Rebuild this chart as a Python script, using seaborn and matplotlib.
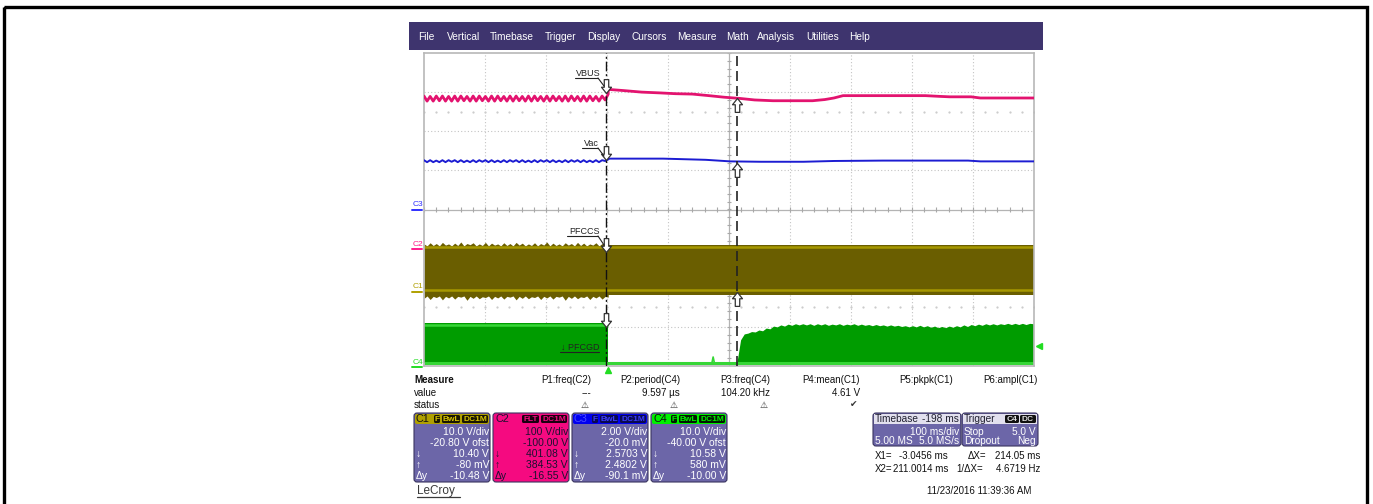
"""
Captura de osciloscópio LeCroy (VBUS, Vac, PFCCS, PFCGD) refeita com seaborn.
"""
import numpy as np
import matplotlib
matplotlib.use("Agg")
import matplotlib.pyplot as plt
import seaborn as sns
from matplotlib.patches import Rectangle, FancyBboxPatch
from matplotlib.path import Path

W, H = 1373, 504

# ---- dados das formas de onda (tempo em ms, amplitude em divisões de tela) ----
vbus_pre = [2.90, 2.77, 2.89, 2.77, 2.90, 2.78, 2.90, 2.77, 2.89, 2.77, 2.90, 2.77,
            2.90, 2.78, 2.89, 2.77, 2.90, 2.77, 2.90, 2.78, 2.89, 2.77, 2.90, 2.77,
            2.90, 2.78, 2.89, 2.77, 2.90, 2.77, 2.90, 2.78, 2.89, 2.77, 2.90, 2.77,
            2.90, 2.78, 2.89, 2.77, 2.90, 2.77, 2.90, 2.78, 2.89, 2.77, 2.90, 2.77,
            2.90, 2.78, 2.89, 2.77, 2.90, 2.77, 2.90, 2.78, 2.89, 2.77, 2.90, 2.80, 2.95]
vbus_post_t = [0, 25, 55, 85, 110, 138, 165, 190, 215, 240, 270, 300, 335, 355,
               370, 385, 450, 520, 545, 560, 595, 610, 698]
vbus_post = [3.07, 3.04, 3.00, 2.98, 2.96, 2.95, 2.91, 2.87, 2.84, 2.80, 2.78, 2.78,
             2.78, 2.81, 2.85, 2.91, 2.91, 2.91, 2.89, 2.88, 2.88, 2.85, 2.85]

vac_pre = [1.26, 1.21, 1.26, 1.21, 1.25, 1.21, 1.26, 1.21, 1.26, 1.22, 1.26, 1.21,
           1.26, 1.21, 1.25, 1.21, 1.26, 1.21, 1.26, 1.22, 1.26, 1.21, 1.26, 1.21,
           1.25, 1.21, 1.26, 1.21, 1.26, 1.22, 1.26, 1.21, 1.26, 1.21, 1.25, 1.21,
           1.26, 1.21, 1.26, 1.22, 1.26, 1.21, 1.26, 1.21, 1.25, 1.21, 1.26, 1.21,
           1.26, 1.22, 1.26, 1.21, 1.26, 1.21, 1.25, 1.21, 1.26, 1.21, 1.26, 1.24, 1.28]
vac_post_t = [0, 90, 160, 200, 250, 320, 370, 450, 590, 610, 698]
vac_post = [1.30, 1.30, 1.27, 1.23, 1.22, 1.22, 1.24, 1.25, 1.25, 1.23, 1.23]

pfccs_pre_top = [-0.88, -0.93, -0.85, -0.92, -0.87, -0.93, -0.84, -0.91, -0.88, -0.93,
                 -0.86, -0.92, -0.83, -0.93, -0.87, -0.90, -0.85, -0.93, -0.88, -0.92,
                 -0.84, -0.93, -0.86, -0.91, -0.88, -0.93, -0.85, -0.92, -0.87, -0.93,
                 -0.84, -0.91, -0.86, -0.93, -0.88, -0.92, -0.85, -0.93, -0.87, -0.91,
                 -0.83, -0.93, -0.86, -0.92, -0.88, -0.93, -0.85, -0.91, -0.87, -0.93,
                 -0.84, -0.92, -0.86, -0.93, -0.88, -0.91, -0.85, -0.93, -0.87, -0.92, -0.90]
pfccs_pre_bot = [-2.27, -2.21, -2.30, -2.22, -2.25, -2.21, -2.31, -2.22, -2.26, -2.21,
                 -2.29, -2.22, -2.24, -2.21, -2.32, -2.22, -2.27, -2.21, -2.28, -2.23,
                 -2.25, -2.21, -2.30, -2.22, -2.26, -2.21, -2.29, -2.22, -2.24, -2.21,
                 -2.31, -2.22, -2.27, -2.21, -2.28, -2.23, -2.25, -2.21, -2.30, -2.22,
                 -2.26, -2.21, -2.29, -2.22, -2.24, -2.21, -2.32, -2.22, -2.27, -2.21,
                 -2.28, -2.23, -2.25, -2.21, -2.30, -2.22, -2.26, -2.21, -2.29, -2.22, -2.24]
pfccs_post_t = [0, 698]
pfccs_post_top = [-0.92, -0.92]
pfccs_post_bot = [-2.19, -2.19]
pfccs_stripes = [-0.97, -2.07]

pfcgd_on_t = [-302, 0]
pfcgd_on_top = [-2.91, -2.91]
pfcgd_base = -3.92
pfcgd_off_t = [0, 170, 172, 174, 211]
pfcgd_off = [-3.92, -3.92, -3.77, -3.92, -3.92]
pfcgd_env = [-3.91, -3.33, -3.18, -3.16, -3.12, -3.13, -3.08, -3.10, -3.03, -3.05,
             -2.98, -3.00, -2.95, -2.98, -2.93, -2.96, -2.92, -2.95, -2.92, -2.95,
             -2.92, -2.96, -2.92, -2.95, -2.92, -2.96, -2.93, -2.95, -2.92, -2.96,
             -2.93, -2.95, -2.92, -2.96, -2.93, -2.96, -2.94, -2.97, -2.94, -2.97,
             -2.95, -2.98, -2.95, -2.98, -2.96, -2.99, -2.97, -3.00, -2.97, -3.00,
             -2.96, -3.00, -2.97, -3.01, -2.98, -3.02, -2.99, -3.02, -2.98, -3.01,
             -2.97, -3.00, -2.95, -2.99, -2.94, -2.97, -2.93, -2.96, -2.92, -2.95,
             -2.92, -2.95, -2.92, -2.94, -2.91, -2.94, -2.91, -2.94, -2.91, -2.94,
             -2.91, -2.92]
pfcgd_env_t0, pfcgd_env_dt = 211, 6

x1_ms, x2_ms = -3.0456, 211.0014
x1_marks = [2.98, 1.27, -1.09, -3.00]
x2_marks = [2.85, 1.19, -2.11]
trig_level = -3.5

# ---- textos da interface ----
menu_items = ["File", "Vertical", "Timebase", "Trigger", "Display", "Cursors",
              "Measure", "Math", "Analysis", "Utilities", "Help"]
menu_x = [418, 447, 490, 545, 587, 631, 677, 726, 757, 806, 849]

meas_heads = ["P1:freq(C2)", "P2:period(C4)", "P3:freq(C4)", "P4:mean(C1)",
              "P5:pkpk(C1)", "P6:ampl(C1)"]
meas_vals = ["---", "9.597 µs", "104.20 kHz", "4.61 V", "", ""]
meas_status = ["⚠", "⚠", "⚠", "✔", "", ""]
meas_right = [591, 680, 770, 860, 953, 1038]

ch_names = ["C1", "C2", "C3", "C4"]
ch_tags = [["F", "BwL", "DC1M"], ["FLT", "DC1M"], ["F", "BwL", "DC1M"], ["F", "BwL", "DC1M"]]
ch_lines = [["10.0 V/div", "-20.80 V ofst", "10.40 V", "-80 mV", "-10.48 V"],
            ["100 V/div", "-100.00 V", "401.08 V", "384.53 V", "-16.55 V"],
            ["2.00 V/div", "-20.0 mV", "2.5703 V", "2.4802 V", "-90.1 mV"],
            ["10.0 V/div", "-40.00 V ofst", "10.58 V", "580 mV", "-10.00 V"]]

# ---- estilo ----
sns.set_theme(style="white")
plt.rcParams["font.family"] = ["Liberation Sans", "DejaVu Sans"]

C_VBUS = "#e3136f"
C_VAC = "#1c1cd2"
C_OLIVE = "#6a5e00"
C_OLIVE_LT = "#a69800"
C_GREEN = "#009c00"
C_GREEN_LT = "#36d636"
C_PANEL = "#6c66a8"

fig = plt.figure(figsize=(W / 100, H / 100), dpi=100)
fig.patch.set_facecolor("white")

# ---- área da tela do osciloscópio ----
ax = fig.add_axes([424 / W, 1 - 366 / H, 610 / W, 313 / H])
ax.set_xlim(-302, 698)
ax.set_ylim(-4, 4)
ax.set_xticks([])
ax.set_yticks([])
for sp in ax.spines.values():
    sp.set_color("#b8b8b8")
    sp.set_linewidth(1.2)

grid_x = [-302 + 100 * k for k in range(1, 10)]
grid_y = [-3, -2, -1, 1, 2, 3]
ax.vlines([g for g in grid_x if g != 198], -4, 4, color="#c4c4c4", lw=0.8,
          linestyles=(0, (1, 2)), zorder=0)
ax.hlines(grid_y, -302, 698, color="#c4c4c4", lw=0.8, linestyles=(0, (1, 2)), zorder=0)
ax.axvline(198, color="#b4b4b4", lw=0.9, zorder=0)
ax.axhline(0, color="#b4b4b4", lw=0.9, zorder=0)
tick_x = np.arange(-302, 699, 20)
tick_y = np.arange(-4, 4.01, 0.2)
ax.vlines(tick_x, -0.07, 0.07, color="#a8a8a8", lw=0.8, zorder=0)
ax.hlines(tick_y, 194, 202, color="#a8a8a8", lw=0.8, zorder=0)
for yy in (2.5, -2.5):
    ax.plot(tick_x, [yy] * len(tick_x), ls="", marker="s", ms=0.6, color="#cccccc", zorder=0)

t_pre = np.linspace(-302, 0, len(vbus_pre))

# PFCCS (C1)
ax.fill_between(t_pre, pfccs_pre_bot, pfccs_pre_top, color=C_OLIVE, lw=0, zorder=1)
ax.fill_between(pfccs_post_t, pfccs_post_bot, pfccs_post_top, color=C_OLIVE, lw=0, zorder=1)
ax.hlines(pfccs_stripes, -302, 698, color=C_OLIVE_LT, lw=1.8, zorder=1)

# PFCGD (C4)
t_env = pfcgd_env_t0 + pfcgd_env_dt * np.arange(len(pfcgd_env))
ax.fill_between(pfcgd_on_t, [pfcgd_base] * 2, pfcgd_on_top, color=C_GREEN, lw=0, zorder=1)
ax.fill_between(t_env, pfcgd_base, pfcgd_env, color=C_GREEN, lw=0, zorder=1)
ax.hlines(pfcgd_on_top[0] - 0.04, pfcgd_on_t[0], pfcgd_on_t[1], color=C_GREEN_LT, lw=1.8, zorder=2)
ax.hlines(pfcgd_base, -302, 698, color=C_GREEN_LT, lw=2.2, zorder=2)
sns.lineplot(x=pfcgd_off_t, y=pfcgd_off, ax=ax, color=C_GREEN_LT, lw=1.2,
             estimator=None, sort=False, zorder=2)

# VBUS (C2) e Vac (C3)
sns.lineplot(x=np.r_[t_pre, vbus_post_t], y=np.r_[vbus_pre, vbus_post], ax=ax,
             color=C_VBUS, lw=2.0, estimator=None, sort=False, zorder=3)
sns.lineplot(x=np.r_[t_pre, vac_post_t], y=np.r_[vac_pre, vac_post], ax=ax,
             color=C_VAC, lw=1.4, estimator=None, sort=False, zorder=3)
ax.set(xlabel="", ylabel="")

# cursores
ax.axvline(x1_ms, color="#111111", lw=1.0, ls=(0, (7, 2, 1.5, 2)), zorder=5)
ax.axvline(x2_ms, color="#222222", lw=1.2, ls=(0, (6, 3)), zorder=5)


def arrow_marker(direction):
    verts = [(0, 0), (-0.36, 0.45), (-0.16, 0.45), (-0.16, 1.0), (0.16, 1.0),
             (0.16, 0.45), (0.36, 0.45), (0, 0)]
    if direction == "up":
        verts = [(x, -y) for x, y in verts]
    return Path(verts, closed=True)


ax.plot([x1_ms] * len(x1_marks), x1_marks, ls="", marker=arrow_marker("down"), ms=20,
        mfc="white", mec="#333333", mew=0.9, zorder=6, clip_on=False)
ax.plot([x2_ms] * len(x2_marks), x2_marks, ls="", marker=arrow_marker("up"), ms=20,
        mfc="white", mec="#333333", mew=0.9, zorder=6, clip_on=False)
ax.plot([706], [trig_level], ls="", marker="<", ms=5, color="#22dd22", clip_on=False, zorder=6)
ax.plot([0], [-4.09], ls="", marker="^", ms=5, color="#22dd22", clip_on=False, zorder=6)

# ---- camada em pixels para a moldura da interface ----
ov = fig.add_axes([0, 0, 1, 1])
ov.set_xlim(0, W)
ov.set_ylim(H, 0)
ov.axis("off")


def txt(x, y, s, **kw):
    kw.setdefault("fontsize", 7)
    kw.setdefault("va", "center")
    ov.text(x, y, s, **kw)


def line(x0, y0, x1, y1, **kw):
    ov.plot([x0, x1], [y0, y1], **kw)


ov.add_patch(Rectangle((4, 7), 1363, 510, fill=False, ec="black", lw=2.4, clip_on=False))

# barra de menu
ov.add_patch(Rectangle((409, 22), 634, 28, color="#3e346e", lw=0))
for name, x in zip(menu_items, menu_x):
    txt(x, 37, name, color="white", fontsize=7.3)

# rótulos dos canais à esquerda
for lab, y, col in [("C3", 205, "#3030ff"), ("C2", 244, "#ff1a8c"),
                    ("C1", 287, "#b0a000"), ("C4", 362, "#22dd22")]:
    txt(413, y, lab, color=col, fontsize=6)
    line(412, y + 5, 422, y + 5, color=col, lw=1.4)

# anotações dos traços
for lab, x, y, ux0, ux1, lx, ly in [("VBUS", 576, 73, 575, 598, 604, 86),
                                      ("Vac", 584, 143, 582, 598, 604, 156),
                                      ("PFCCS", 569, 231, 567, 598, 604, 245)]:
    txt(x, y, lab, color="#222222", fontsize=6.5)
    line(ux0, y + 5, ux1, y + 5, color="#222222", lw=0.8)
    line(ux1, y + 5, lx, ly, color="#222222", lw=0.8)
txt(561, 347, "↓ PFCGD", color="#222222", fontsize=6.5)
line(560, 352, 599, 352, color="#222222", lw=0.8)

# tabela de medidas
txt(414, 380, "Measure", fontweight="bold", color="#111111")
txt(414, 393, "value", color="#111111")
txt(414, 405, "status", color="#111111")
for head, val, st, xr in zip(meas_heads, meas_vals, meas_status, meas_right):
    txt(xr, 380, head, ha="right", color="#111111")
    if val:
        txt(xr, 393, val, ha="right", color="#111111")
    if st:
        txt(xr - 6, 405, st, ha="center", color="#333333", fontsize=6.5)

# caixas dos canais
head_cols = ["#b0a000", "#f50a80", "#0000f0", "#00f000"]
body_cols = [C_PANEL, "#f50a80", C_PANEL, C_PANEL]
tag_text = ["#d8c400", "#f50a80", "#3c3cff", "#00f000"]
tag_box = ["#1a1600", "#1a0010", "#0a0a50", "#001a00"]
name_cols = ["#111111", "#1c1030", "#4a4aff", "#111111"]
text_cols = ["white", "#1c1030", "white", "white"]
tag_w = {"F": 7, "BwL": 19, "DC1M": 27, "FLT": 18}
for i, x0 in enumerate([414, 493, 572, 651]):
    ov.add_patch(FancyBboxPatch((x0, 413), 76, 69, boxstyle="round,pad=0,rounding_size=3",
                                fc=body_cols[i], ec="#3a3560", lw=0.8))
    ov.add_patch(FancyBboxPatch((x0 + 1, 414), 74, 10, boxstyle="round,pad=0,rounding_size=2",
                                fc=head_cols[i], ec="none"))
    txt(x0 + 2, 419.5, ch_names[i], color=name_cols[i], fontsize=7.8)
    xt = x0 + 75
    for tag in reversed(ch_tags[i]):
        w = tag_w[tag]
        xt -= w
        ov.add_patch(FancyBboxPatch((xt, 415), w - 1, 8, boxstyle="round,pad=0,rounding_size=1.5",
                                    fc=tag_box[i], ec="none"))
        txt(xt + (w - 1) / 2, 419.5, tag, ha="center", color=tag_text[i], fontsize=6,
            fontweight="bold")
        xt -= 1
    for j, s in enumerate(ch_lines[i]):
        txt(x0 + 75, 432 + 11 * j, s, ha="right", color=text_cols[i], fontsize=7.5)
    for j, sym in zip([2, 3, 4], ["↓", "↑", "Δy"]):
        txt(x0 + 2, 432 + 11 * j, sym, color=text_cols[i], fontsize=7.5)

ov.text(417, 491, "LeCroy", fontsize=8.5, color="#3a3a3a", va="center")
line(417, 497, 460, 497, color="#3a3a3a", lw=0.9)

# caixas de base de tempo e trigger
for x0, w in [(873, 88), (962, 76)]:
    ov.add_patch(FancyBboxPatch((x0, 413), w, 33, boxstyle="round,pad=0,rounding_size=3",
                                fc=C_PANEL, ec="#3a3560", lw=0.8))
    ov.add_patch(Rectangle((x0 + 1, 414), w - 2, 10, fc="#e2e0ee", ec="none"))
txt(875, 419.5, "Timebase", color="#202030", fontsize=7.3)
txt(959, 419.5, "-198 ms", ha="right", color="#202030", fontsize=7.3)
txt(959, 432, "100 ms/div", ha="right", color="white", fontsize=7.3)
txt(875, 441.5, "5.00 MS", color="white", fontsize=7.3)
txt(959, 441.5, "5.0 MS/s", ha="right", color="white", fontsize=7.3)
txt(964, 419.5, "Trigger", color="#202030", fontsize=7.3)
for tag, xt, w in [("C4", 1005, 14), ("DC", 1020, 16)]:
    ov.add_patch(FancyBboxPatch((xt, 415), w, 8, boxstyle="round,pad=0,rounding_size=1.5",
                                fc="#111111", ec="none"))
    txt(xt + w / 2, 419.5, tag, ha="center", color="#e0e0e0", fontsize=6, fontweight="bold")
txt(964, 432, "Stop", color="white", fontsize=7.3)
txt(1036, 432, "5.0 V", ha="right", color="white", fontsize=7.3)
txt(964, 441.5, "Dropout", color="white", fontsize=7.3)
txt(1036, 441.5, "Neg", ha="right", color="white", fontsize=7.3)

# leitura dos cursores
txt(875, 456, "X1=", color="#111111")
txt(948, 456, "-3.0456 ms", ha="right", color="#111111")
txt(968, 456, "ΔX=", color="#111111")
txt(1040, 456, "214.05 ms", ha="right", color="#111111")
txt(875, 469, "X2=", color="#111111")
txt(948, 469, "211.0014 ms", ha="right", color="#111111")
txt(956, 469, "1/ΔX=", color="#111111")
txt(1040, 469, "4.6719 Hz", ha="right", color="#111111")
txt(927, 491, "11/23/2016 11:39:36 AM", color="#111111")

fig.savefig("out.png", dpi=100)
